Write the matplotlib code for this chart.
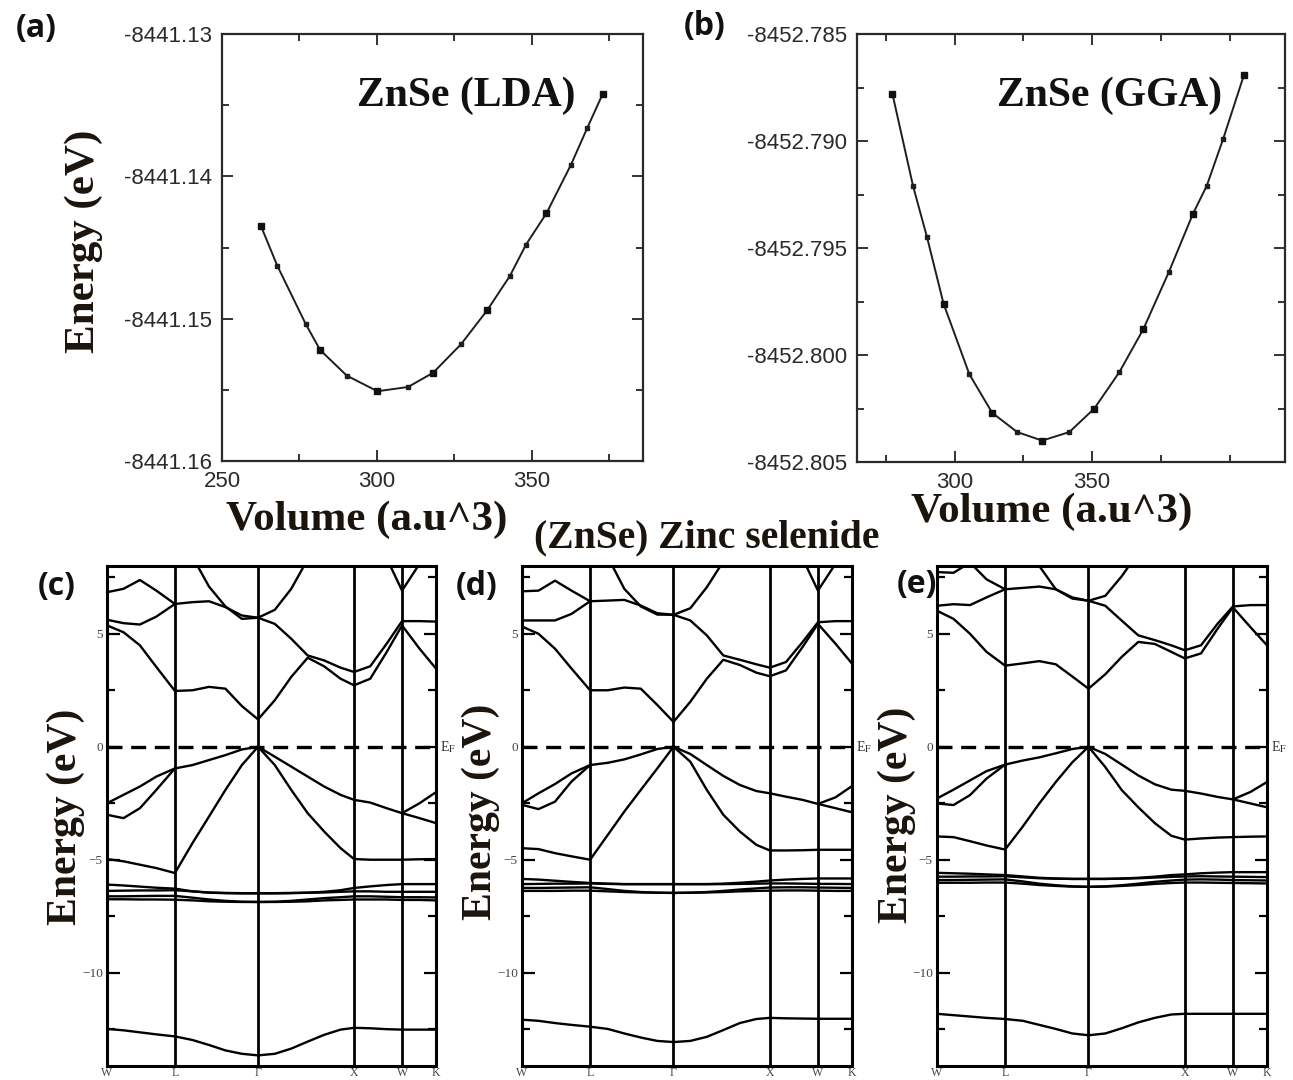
import numpy as np
import matplotlib
matplotlib.use("Agg")
import matplotlib.pyplot as plt
from matplotlib.ticker import FixedLocator, FormatStrFormatter
from matplotlib.transforms import blended_transform_factory

plt.rcParams['mathtext.fontset'] = 'stix'
nan = float('nan')

# ---------------- E-V data ----------------
V_LDA_CURVE = [262.6, 267.9, 277.1, 281.7, 290.3, 300.2, 310.1, 318.2, 327.2, 335.7, 343.0, 348.2, 354.8, 362.7, 368.0, 373.0]
E_LDA_CURVE = [-8441.1435, -8441.1463, -8441.1504, -8441.1522, -8441.1540, -8441.1551, -8441.1548, -8441.1538,
               -8441.1518, -8441.1494, -8441.1470, -8441.1448, -8441.1426, -8441.1392, -8441.1366, -8441.1342]
V_LDA_MARK = [262.6, 281.7, 300.2, 318.2, 335.7, 354.8, 373.0]
E_LDA_MARK = [-8441.1435, -8441.1522, -8441.1551, -8441.1538, -8441.1494, -8441.1426, -8441.1342]

V_GGA_CURVE = [277.3, 284.8, 289.9, 295.9, 305.3, 313.6, 322.7, 331.8, 341.7, 350.8, 359.9, 368.6, 378.0, 386.7, 391.7, 397.7, 405.3]
E_GGA_CURVE = [-8452.7878, -8452.7921, -8452.7945, -8452.7976, -8452.8009, -8452.8027, -8452.8036, -8452.8040,
               -8452.8036, -8452.8025, -8452.8008, -8452.7988, -8452.7961, -8452.7934, -8452.7921, -8452.7899, -8452.7869]
V_GGA_MARK = [277.3, 295.9, 313.6, 331.8, 350.8, 368.6, 386.7, 405.3]
E_GGA_MARK = [-8452.7878, -8452.7976, -8452.8027, -8452.8040, -8452.8025, -8452.7988, -8452.7934, -8452.7869]

Y_TICKS_A = [-8441.16, -8441.15, -8441.14, -8441.13]
Y_TICKS_B = [-8452.805, -8452.800, -8452.795, -8452.790, -8452.785]
X_TICKS_A = [250, 300, 350]
X_TICKS_B = [300, 350]

# ---------------- band-structure data ----------------
KPATH_LABELS = ['W', 'L', 'Γ', 'X', 'W', 'K']
KPATH_DIST = [0.0, 0.7071, 1.5731, 2.5731, 3.0731, 3.4267]
K_FRAC = [0.0, 0.05, 0.10, 0.15, 0.2064, 0.26, 0.31, 0.36, 0.41, 0.4591, 0.51, 0.56, 0.61, 0.66, 0.71,
          0.7509, 0.80, 0.85, 0.8968, 0.95, 1.0]

# panel (c)
C_S = [-12.49, -12.55, -12.64, -12.73, -12.82, -12.98, -13.2, -13.44, -13.59, -13.66, -13.59, -13.36, -13.05, -12.75, -12.52, -12.44, -12.46, -12.5, -12.52, -12.52, -12.52]
C_D1 = [-6.10, -6.14, -6.19, -6.24, -6.28, -6.40, -6.46, -6.48, -6.49, -6.49, -6.49, -6.48, -6.46, -6.42, -6.35, -6.25, -6.18, -6.12, -6.08, -6.08, -6.08]
C_D2 = [-6.38, -6.37, -6.36, -6.36, -6.35, -6.40, -6.45, -6.47, -6.48, -6.48, -6.48, -6.47, -6.46, -6.45, -6.42, -6.40, -6.40, -6.42, -6.42, -6.42, -6.42]
C_D3 = [-6.62, -6.62, -6.61, -6.60, -6.60, -6.68, -6.76, -6.82, -6.86, -6.87, -6.86, -6.82, -6.76, -6.70, -6.66, -6.62, -6.62, -6.64, -6.66, -6.66, -6.67]
C_D4 = [-6.75, -6.75, -6.76, -6.76, -6.77, -6.80, -6.84, -6.86, -6.87, -6.87, -6.87, -6.86, -6.84, -6.80, -6.78, -6.76, -6.76, -6.76, -6.78, -6.78, -6.80]
C_V1 = [-4.97, -5.07, -5.22, -5.37, -5.59, -4.26, -3.09, -1.91, -0.81, 0.0, -0.81, -1.91, -2.94, -3.75, -4.49, -4.97, -5.0, -5.0, -5.0, -4.98, -4.97]
C_V2 = [-3.01, -3.16, -2.72, -1.91, -0.96, -0.81, -0.59, -0.37, -0.12, 0.0, -0.44, -0.88, -1.32, -1.76, -2.13, -2.35, -2.47, -2.72, -2.94, -3.16, -3.38]
C_V3 = [-2.50, -2.13, -1.76, -1.32, -0.96, nan, nan, nan, nan, nan, nan, nan, nan, nan, nan, nan, nan, nan, -2.94, -2.50, -2.01]
C_C1 = [5.37, 5.07, 4.49, 3.53, 2.47, 2.50, 2.65, 2.57, 1.80, 1.21, 2.06, 3.09, 3.94, 3.56, 3.01, 2.72, 3.01, 4.19, 5.37, 4.34, 3.46]
C_C2 = [5.62, 5.47, 5.41, 5.76, 6.32, 6.40, 6.44, 6.18, 5.81, 5.71, 5.44, 4.78, 4.04, 3.82, 3.50, 3.31, 3.56, 4.56, 5.56, 5.56, 5.54]
C_C3 = [nan, nan, nan, nan, nan, 8.4, 7.09, 6.21, 5.66, 5.71, 6.06, 6.99, 8.3, nan, nan, nan, nan, nan, nan, nan, nan]
C_C4 = [6.84, 6.99, 7.38, 6.91, 6.32, nan, nan, nan, nan, nan, nan, nan, nan, nan, nan, nan, nan, nan, nan, nan, nan]
C_C5 = [nan, nan, nan, nan, nan, nan, nan, nan, nan, nan, nan, nan, nan, nan, nan, nan, nan, 8.35, 6.91, 8.1, nan]

# panel (d)
D_S = [-12.08, -12.13, -12.23, -12.31, -12.39, -12.49, -12.69, -12.87, -13.02, -13.07, -13.02, -12.84, -12.54, -12.23, -12.05, -12.0, -12.02, -12.03, -12.04, -12.04, -12.04]
D_D1 = [-5.85, -5.88, -5.93, -5.98, -6.03, -6.06, -6.08, -6.08, -6.08, -6.08, -6.08, -6.08, -6.06, -6.02, -5.97, -5.92, -5.88, -5.85, -5.83, -5.83, -5.83]
D_D2 = [-6.08, -6.07, -6.06, -6.06, -6.05, -6.07, -6.08, -6.08, -6.08, -6.08, -6.08, -6.08, -6.08, -6.07, -6.06, -6.05, -6.05, -6.06, -6.07, -6.07, -6.08]
D_D3 = [-6.25, -6.25, -6.24, -6.23, -6.22, -6.30, -6.38, -6.43, -6.46, -6.47, -6.46, -6.43, -6.38, -6.32, -6.27, -6.23, -6.22, -6.22, -6.23, -6.24, -6.25]
D_D4 = [-6.38, -6.38, -6.38, -6.37, -6.37, -6.40, -6.43, -6.45, -6.46, -6.47, -6.46, -6.45, -6.43, -6.40, -6.38, -6.37, -6.36, -6.36, -6.37, -6.38, -6.38]
D_V1 = [-4.49, -4.53, -4.71, -4.85, -5.0, -3.9, -2.87, -1.91, -0.96, 0.0, -0.66, -1.91, -3.01, -3.75, -4.34, -4.59, -4.59, -4.58, -4.56, -4.56, -4.56]
D_V2 = [-2.57, -2.76, -2.43, -1.54, -0.81, -0.71, -0.56, -0.34, -0.10, 0.0, -0.32, -0.81, -1.29, -1.69, -1.96, -2.06, -2.21, -2.35, -2.53, -2.72, -2.90]
D_V3 = [-2.50, -2.06, -1.65, -1.18, -0.81, nan, nan, nan, nan, nan, nan, nan, nan, nan, nan, nan, nan, nan, -2.53, -2.24, -1.74]
D_C1 = [5.32, 5.0, 4.34, 3.46, 2.50, 2.50, 2.62, 2.57, 1.85, 1.10, 1.99, 3.01, 3.85, 3.62, 3.28, 3.12, 3.38, 4.41, 5.44, 4.56, 3.68]
D_C2 = [5.59, 5.59, 5.59, 5.88, 6.44, 6.47, 6.50, 6.25, 5.91, 5.84, 5.59, 4.93, 4.04, 3.85, 3.65, 3.50, 3.75, 4.63, 5.51, 5.56, 5.56]
D_C3 = [nan, nan, nan, nan, nan, 8.4, 6.99, 6.21, 5.85, 5.84, 6.13, 7.06, 8.2, nan, nan, nan, nan, nan, nan, nan, nan]
D_C4 = [6.88, 6.91, 7.35, 6.91, 6.44, nan, nan, nan, nan, nan, nan, nan, nan, nan, nan, nan, nan, nan, nan, nan, nan]
D_C5 = [nan, nan, nan, nan, nan, nan, nan, nan, nan, nan, nan, nan, nan, nan, nan, nan, nan, 8.35, 6.91, 8.1, nan]

# panel (e)
E_S = [-11.82, -11.88, -11.94, -12.0, -12.05, -12.13, -12.31, -12.49, -12.69, -12.77, -12.69, -12.46, -12.2, -12.0, -11.85, -11.82, -11.82, -11.82, -11.82, -11.82, -11.82]
E_D1 = [-5.58, -5.60, -5.62, -5.65, -5.68, -5.74, -5.80, -5.83, -5.85, -5.85, -5.85, -5.83, -5.80, -5.75, -5.68, -5.65, -5.60, -5.57, -5.55, -5.55, -5.55]
E_D2 = [-5.75, -5.75, -5.74, -5.74, -5.73, -5.78, -5.82, -5.84, -5.85, -5.85, -5.85, -5.84, -5.82, -5.79, -5.76, -5.74, -5.73, -5.74, -5.75, -5.76, -5.77]
E_D3 = [-5.90, -5.90, -5.89, -5.88, -5.87, -5.96, -6.06, -6.13, -6.18, -6.20, -6.18, -6.13, -6.06, -5.98, -5.92, -5.88, -5.87, -5.88, -5.90, -5.91, -5.92]
E_D4 = [-6.02, -6.02, -6.02, -6.01, -6.01, -6.06, -6.12, -6.16, -6.19, -6.20, -6.19, -6.16, -6.12, -6.07, -6.03, -6.01, -6.01, -6.02, -6.03, -6.04, -6.05]
E_V1 = [-3.97, -4.0, -4.18, -4.37, -4.55, -3.53, -2.51, -1.56, -0.69, 0.0, -0.90, -1.92, -2.68, -3.38, -3.94, -4.11, -4.06, -4.02, -4.0, -3.98, -3.97]
E_V2 = [-2.51, -2.58, -2.14, -1.41, -0.79, -0.61, -0.47, -0.29, -0.10, 0.0, -0.32, -0.79, -1.27, -1.66, -1.90, -1.95, -2.07, -2.22, -2.33, -2.51, -2.68]
E_V3 = [-2.29, -1.90, -1.49, -1.08, -0.79, nan, nan, nan, nan, nan, nan, nan, nan, nan, nan, nan, nan, nan, -2.33, -2.0, -1.56]
E_C1 = [6.02, 5.66, 5.0, 4.20, 3.59, 3.69, 3.79, 3.65, 3.11, 2.57, 3.21, 3.98, 4.64, 4.55, 4.20, 3.91, 4.13, 5.22, 6.17, 5.29, 4.49]
E_C2 = [6.24, 6.31, 6.27, 6.61, 6.97, 7.03, 7.09, 6.97, 6.61, 6.46, 6.24, 5.58, 4.93, 4.72, 4.49, 4.27, 4.49, 5.44, 6.21, 6.27, 6.27]
E_C3 = [nan, nan, nan, nan, nan, nan, 8.0, 6.97, 6.56, 6.46, 6.68, 7.55, 8.6, nan, nan, nan, nan, nan, nan, nan, nan]
E_C4 = [7.73, 7.70, 8.15, 7.41, 6.97, nan, nan, nan, nan, nan, nan, nan, nan, nan, nan, nan, nan, nan, nan, nan, nan]

BANDS_C = [C_S, C_D1, C_D2, C_D3, C_D4, C_V1, C_V2, C_V3, C_C1, C_C2, C_C3, C_C4, C_C5]
BANDS_D = [D_S, D_D1, D_D2, D_D3, D_D4, D_V1, D_V2, D_V3, D_C1, D_C2, D_C3, D_C4, D_C5]
BANDS_E = [E_S, E_D1, E_D2, E_D3, E_D4, E_V1, E_V2, E_V3, E_C1, E_C2, E_C3, E_C4]

# ---------------- figure ----------------
W, H = 1293, 1080
fig = plt.figure(figsize=(W / 100, H / 100), dpi=100)
fig.patch.set_facecolor('white')


def rect(l, t, r, b):
    return [l / W, 1 - b / H, (r - l) / W, (b - t) / H]


SANS = ['Liberation Sans', 'DejaVu Sans']
SERIF = ['Liberation Serif', 'DejaVu Serif']


def ev_panel(ax, vc, ec, vm, em, xlim, ylim, xt, xminor, yt, yminor, fmt):
    ax.plot(vc, ec, color='#1e1e1e', lw=1.4, marker='s', ms=2.2)
    ax.plot(vm, em, ls='none', marker='s', ms=5, color='#111111')
    ax.set_xlim(*xlim)
    ax.set_ylim(*ylim)
    ax.xaxis.set_major_locator(FixedLocator(xt))
    ax.xaxis.set_minor_locator(FixedLocator(xminor))
    ax.yaxis.set_major_locator(FixedLocator(yt))
    ax.yaxis.set_minor_locator(FixedLocator(yminor))
    ax.yaxis.set_major_formatter(FormatStrFormatter(fmt))
    ax.tick_params(which='both', direction='in', top=True, right=True, width=1.4, color='#333333')
    ax.tick_params(which='major', length=8, labelsize=16, labelcolor='#2a2a2a', pad=7)
    ax.tick_params(which='minor', length=5)
    for lab in ax.get_xticklabels() + ax.get_yticklabels():
        lab.set_family(SANS)
    for s in ax.spines.values():
        s.set_linewidth(1.6)
        s.set_color('#2a2a2a')


axa = fig.add_axes(rect(222, 34, 643, 461))
ev_panel(axa, V_LDA_CURVE, E_LDA_CURVE, V_LDA_MARK, E_LDA_MARK, (250, 386), (-8441.16, -8441.13),
         X_TICKS_A, [275, 325, 375], Y_TICKS_A, [-8441.155, -8441.145, -8441.135], '%.2f')
axb = fig.add_axes(rect(857, 34, 1285, 462))
ev_panel(axb, V_GGA_CURVE, E_GGA_CURVE, V_GGA_MARK, E_GGA_MARK, (264.4, 420.2), (-8452.805, -8452.785),
         X_TICKS_B, [275, 325, 375, 400], Y_TICKS_B, [-8452.8025, -8452.7975, -8452.7925, -8452.7875], '%.3f')

axa.text(0.58, 0.855, 'ZnSe (LDA)', transform=axa.transAxes, ha='center', va='center',
         fontsize=30, fontweight='bold', family=SERIF, color='#111111')
axb.text(0.59, 0.855, 'ZnSe (GGA)', transform=axb.transAxes, ha='center', va='center',
         fontsize=30, fontweight='bold', family=SERIF, color='#111111')


def band_panel(ax, bands):
    total = KPATH_DIST[-1]
    x = np.array(K_FRAC) * total
    for b in bands:
        ax.plot(x, np.array(b, dtype=float), color='black', lw=1.7, solid_joinstyle='round')
    for d in KPATH_DIST[1:-1]:
        ax.axvline(d, color='black', lw=2.0)
    ax.axhline(0, color='black', lw=2.4, ls=(0, (4.5, 2.6)))
    ax.set_xlim(0, total)
    ax.set_ylim(-14.13, 8.0)
    ax.set_xticks(KPATH_DIST)
    ax.set_xticklabels(KPATH_LABELS, family=SERIF, fontsize=8.5, color='#444444')
    ax.yaxis.set_major_locator(FixedLocator([-10, -5, 0, 5]))
    ax.yaxis.set_minor_locator(FixedLocator([-12.5, -7.5, -2.5, 2.5, 7.5]))
    ax.tick_params(axis='y', which='both', direction='in', left=True, right=True, width=1.6)
    ax.tick_params(axis='y', which='major', length=9, labelsize=9.5, labelcolor='#444444', pad=3)
    ax.tick_params(axis='y', which='minor', length=6)
    ax.tick_params(axis='x', length=0, pad=1)
    for lab in ax.get_yticklabels():
        lab.set_family(SERIF)
    for s in ax.spines.values():
        s.set_linewidth(2.2)
        s.set_color('black')
    tr = blended_transform_factory(ax.transAxes, ax.transData)
    ax.text(1.012, 0, r'E$_{\mathrm{F}}$', transform=tr, ha='left', va='center', fontsize=10,
            family=SERIF, color='#333333')


axc = fig.add_axes(rect(107, 566, 436, 1066))
band_panel(axc, BANDS_C)
axd = fig.add_axes(rect(522, 566, 852, 1066))
band_panel(axd, BANDS_D)
axe = fig.add_axes(rect(937, 566, 1267, 1066))
band_panel(axe, BANDS_E)

# ---------------- figure texts ----------------
big = dict(fontsize=31, fontweight='bold', family=SERIF, color='#1a140c', ha='center', va='center')
fig.text(84 / W, 1 - 241 / H, 'Energy (eV)', rotation=90, **big)
ylab = dict(big, fontsize=30)
fig.text(66 / W, 1 - 817 / H, 'Energy (eV)', rotation=90, **ylab)
fig.text(481 / W, 1 - 812 / H, 'Energy (eV)', rotation=90, **ylab)
fig.text(897 / W, 1 - 815 / H, 'Energy (eV)', rotation=90, **ylab)
fig.text(367 / W, 1 - 520 / H, 'Volume (a.u^3)', **big)
fig.text(1052 / W, 1 - 512 / H, 'Volume (a.u^3)', **big)
fig.text(707 / W, 1 - 538 / H, '(ZnSe) Zinc selenide', fontsize=28.5, fontweight='bold', family=SERIF,
         color='#1a140c', ha='center', va='center')

lab = dict(fontsize=23, fontweight='bold', family=['Open Sans', 'DejaVu Sans'], color='#111111',
           ha='center', va='center')
fig.text(36 / W, 1 - 28 / H, '(a)', **lab)
fig.text(705 / W, 1 - 26 / H, '(b)', **lab)
fig.text(57 / W, 1 - 587 / H, '(c)', **lab)
fig.text(477 / W, 1 - 587 / H, '(d)', **lab)
fig.text(917 / W, 1 - 585 / H, '(e)', **lab)

fig.savefig('out.png', dpi=100, facecolor='white')
